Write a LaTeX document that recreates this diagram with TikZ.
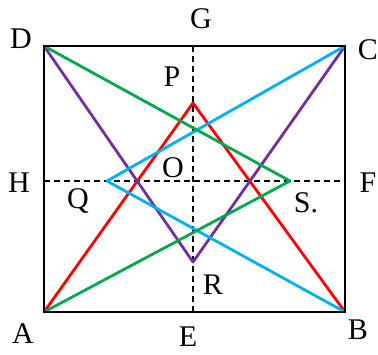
\documentclass[tikz,border=0pt]{standalone}
\usepackage{tikz}
\usepackage{fontspec}
\setmainfont{Liberation Serif}
\definecolor{skyblue}{RGB}{0,176,240}
\definecolor{leafgreen}{RGB}{0,168,80}
\definecolor{violet7}{RGB}{112,48,160}
\begin{document}
\begin{tikzpicture}[x=1pt, y=-1pt,
  lbl/.style={font=\fontsize{30}{32}\selectfont, inner sep=0pt},
  side/.style={line width=1.8pt},
  axis/.style={line width=1.3pt, dash pattern=on 6pt off 4pt},
  zig/.style={line width=2.8pt, line join=round}]
  \useasboundingbox (0,0) rectangle (378,354);

  % Corners of the rectangle
  \coordinate (A) at (44,312);
  \coordinate (B) at (345,312);
  \coordinate (C) at (345,46);
  \coordinate (D) at (44,46);
  % Midpoints of the sides
  \coordinate (G) at (193,46);
  \coordinate (E) at (193,312);
  \coordinate (H) at (44,181);
  \coordinate (F) at (345,181);
  % Inner points
  \coordinate (P) at (193,103);
  \coordinate (R) at (193,262);
  \coordinate (Q) at (107,181);
  \coordinate (S) at (290,181);

  % Dashed axes
  \draw[axis] (G) -- (E);
  \draw[axis] (H) -- (F);

  % Coloured zigzags
  \draw[zig, red] (A) -- (P) -- (B);
  \draw[zig, violet7] (D) -- (R) -- (C);
  \draw[zig, skyblue] (C) -- (Q) -- (B);
  \draw[zig, leafgreen] (D) -- (S) -- (A);

  % Rectangle
  \draw[side] (A) -- (B) -- (C) -- (D) -- cycle;

  % Labels
  \node[lbl] (lA) at (23,334) {A};
  \node[lbl] (lB) at (358,330) {B};
  \node[lbl] (lC) at (368,50) {C};
  \node[lbl] (lD) at (21,39) {D};
  \node[lbl] (lG) at (201,19) {G};
  \node[lbl] (lE) at (188,337) {E};
  \node[lbl] (lH) at (19,183) {H};
  \node[lbl] (lF) at (368,183) {F};
  \node[lbl] (lP) at (172,77) {P};
  \node[lbl] (lO) at (173,168) {O};
  \node[lbl] (lQ) at (78,201) {Q};
  \node[lbl] (lS) at (306,203) {S.};
  \node[lbl] (lR) at (213,285) {R};
\end{tikzpicture}
\end{document}
